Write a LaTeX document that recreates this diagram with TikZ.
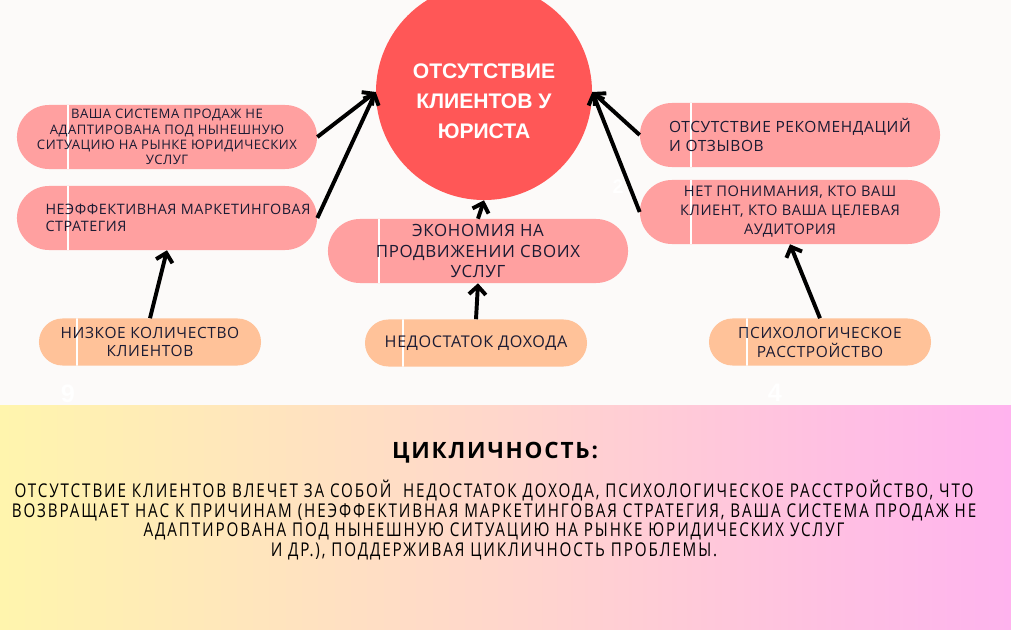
\documentclass[tikz,border=0pt]{standalone}
\usepackage{fontspec}
\setmainfont{Open Sans}
\newfontfamily\pillfont[LetterSpace=4]{Open Sans}
\newfontfamily\headfont[LetterSpace=8]{Open Sans}
\newfontfamily\goalfont{Liberation Sans}
\newfontfamily\condfont[FakeStretch=0.8,LetterSpace=10]{Open Sans}
\usepackage{xcolor}
\usetikzlibrary{positioning,calc,arrows.meta}
\definecolor{paper}{HTML}{FCFAF9}
\definecolor{goalred}{HTML}{FF5757}
\definecolor{pillpink}{HTML}{FFA0A0}
\definecolor{pillorange}{HTML}{FFC299}
\definecolor{ink}{HTML}{1B1B33}
\definecolor{bandyellow}{HTML}{FFF5AD}
\definecolor{bandpeach}{HTML}{FFD6CC}
\definecolor{bandpink}{HTML}{FFB3EE}

\begin{document}
\begin{tikzpicture}[x=0.025cm,y=-0.025cm,
    pill/.style={rectangle,fill=pillpink,minimum width=7.5cm,minimum height=1.6cm,
      rounded corners=0.8cm,inner sep=0pt,align=center,text=ink,
      path picture={\draw[divider] ([xshift=1.275cm]path picture bounding box.north west)
        -- ([xshift=1.275cm]path picture bounding box.south west);}},
    base/.style={rectangle,fill=pillorange,minimum width=5.55cm,minimum height=1.175cm,
      rounded corners=0.5875cm,inner sep=0pt,align=center,text=ink,
      path picture={\draw[divider] ([xshift=0.96cm]path picture bounding box.north west)
        -- ([xshift=0.96cm]path picture bounding box.south west);}},
    divider/.style={draw=white,line width=1.5pt},
    arr/.style={draw=black,line width=2.8pt,-{Straight Barb[length=6pt,width=12pt]}},
    ghost/.style={text=white,font=\goalfont\bfseries\fontsize{#1}{#1}\selectfont}
  ]
    \useasboundingbox (0,0) rectangle (1011,630);
    \fill[paper] (0,0) rectangle (1011,405);

    % faint page numbers
    \node[ghost=14] (n2) at (618,187) {2};
    \node[ghost=18] (n9) at (68,394) {9};
    \node[ghost=18] (n4) at (775,393) {4};

    \shade[left color=bandyellow,right color=bandpink,middle color=bandpeach] (0,405) rectangle (1011,630);

    % central problem
    \node[circle,fill=goalred,minimum size=5.4cm,inner sep=0pt] (goal) at (484,92) {};
    \node[text=white,align=center,font=\goalfont\bfseries\fontsize{15}{21.5}\selectfont] (goallabel) at (484,101)
      {ОТСУТСТВИЕ\\КЛИЕНТОВ У\\ЮРИСТА};

    % causes
    \node[pill,font=\pillfont\fontsize{9.3}{10.8}\selectfont] (p1) at (167,137)
      {ВАША СИСТЕМА ПРОДАЖ НЕ\\АДАПТИРОВАНА ПОД НЫНЕШНУЮ\\СИТУАЦИЮ НА РЫНКЕ ЮРИДИЧЕСКИХ\\УСЛУГ};
    \node[pill,align=left,font=\pillfont\fontsize{10.2}{12}\selectfont] (p2) at (167,218)
      {\hspace*{0.55cm}НЕЭФФЕКТИВНАЯ МАРКЕТИНГОВАЯ\\\hspace*{0.55cm}СТРАТЕГИЯ};
    \node[pill,font=\pillfont\fontsize{12}{14.5}\selectfont] (p3) at (478,251)
      {ЭКОНОМИЯ НА\\ПРОДВИЖЕНИИ СВОИХ\\УСЛУГ};
    \node[pill,align=left,font=\pillfont\fontsize{11}{13.5}\selectfont] (p4) at (790,135)
      {ОТСУТСТВИЕ РЕКОМЕНДАЦИЙ\\И ОТЗЫВОВ};
    \node[pill,font=\pillfont\fontsize{10.4}{13.5}\selectfont] (p5) at (790,212)
      {НЕТ ПОНИМАНИЯ, КТО ВАШ\\КЛИЕНТ, КТО ВАША ЦЕЛЕВАЯ\\АУДИТОРИЯ};

    % consequences
    \node[base,font=\pillfont\fontsize{11}{12.8}\selectfont] (p6) at (150,342)
      {НИЗКОЕ КОЛИЧЕСТВО\\КЛИЕНТОВ};
    \node[base,font=\pillfont\fontsize{11.5}{12.8}\selectfont] (p7) at (476,343)
      {НЕДОСТАТОК ДОХОДА};
    \node[base,font=\pillfont\fontsize{11}{13.5}\selectfont] (p8) at (820,342)
      {ПСИХОЛОГИЧЕСКОЕ\\РАССТРОЙСТВО};

    \draw[arr] (p1.east) -- (goal.west);
    \draw[arr] (p2.east) -- (goal.west);
    \draw[arr] (p4.west) -- (goal.east);
    \draw[arr] (p5.west) -- (goal.east);
    \draw[arr] (p3.north) -- (goal.south);
    \draw[arr] (p6.north) -- (p2.south);
    \draw[arr] (p7.north) -- (p3.south);
    \draw[arr] (p8.north) -- (p5.south);

    % summary
    \node[font=\headfont\bfseries\fontsize{16}{18}\selectfont] (cycle) at (495,453) {ЦИКЛИЧНОСТЬ:};
    \node[align=center,font=\condfont\fontsize{13.5}{14}\selectfont] (cycletext) at (494,520)
      {ОТСУТСТВИЕ КЛИЕНТОВ ВЛЕЧЕТ ЗА СОБОЙ~ НЕДОСТАТОК ДОХОДА, ПСИХОЛОГИЧЕСКОЕ РАССТРОЙСТВО, ЧТО\\
       ВОЗВРАЩАЕТ НАС К ПРИЧИНАМ (НЕЭФФЕКТИВНАЯ МАРКЕТИНГОВАЯ СТРАТЕГИЯ, ВАША СИСТЕМА ПРОДАЖ НЕ\\
       АДАПТИРОВАНА ПОД НЫНЕШНУЮ СИТУАЦИЮ НА РЫНКЕ ЮРИДИЧЕСКИХ УСЛУГ\\
       И ДР.), ПОДДЕРЖИВАЯ ЦИКЛИЧНОСТЬ ПРОБЛЕМЫ.};
  \end{tikzpicture}
\end{document}
